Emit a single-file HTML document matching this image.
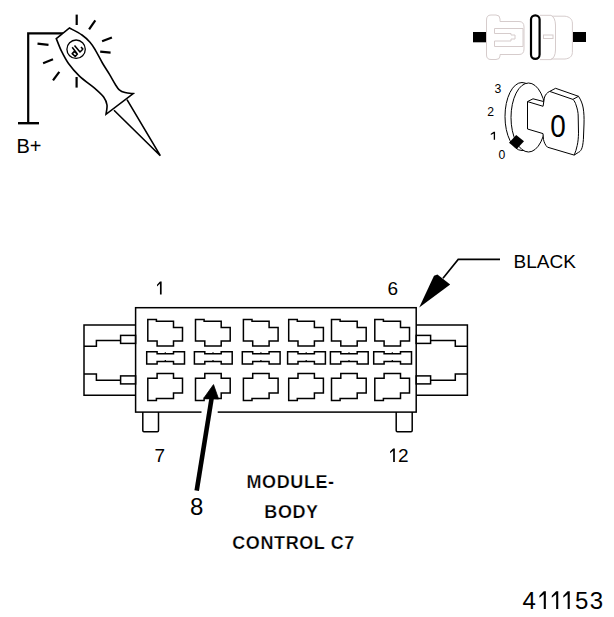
<!DOCTYPE html>
<html><head><meta charset="utf-8">
<style>
html,body{margin:0;padding:0;background:#fff;}
body{width:614px;height:617px;overflow:hidden;position:relative;}
svg{position:absolute;left:0;top:0;}
text{font-family:"Liberation Sans",sans-serif;fill:#000;}
</style></head><body>
<svg width="614" height="617" viewBox="0 0 614 617">
<rect width="614" height="617" fill="#fff"/>
<!-- test light -->
<g stroke="#000" fill="none" stroke-linecap="butt">
  <path d="M28.2 123 V33.4 H63.4" stroke-width="2.2"/>
  <path d="M18 123.2 H39" stroke-width="2.4"/>
  <g stroke-width="2.2">
    <path d="M76.7 14.6 V25"/>
    <path d="M89.1 29.3 L95.3 20.4"/>
    <path d="M102.1 41.3 L111.9 37.4"/>
    <path d="M100.2 51.7 L110.6 52.7"/>
    <path d="M76.6 77 V87.6"/>
    <path d="M53 80.3 L59.3 71.8"/>
    <path d="M43.1 63.2 L53 59.3"/>
    <path d="M37.5 43.7 L48.5 44.9"/>
  </g>
  <path d="M56.3 38.6 L69.5 28 C71.58 29.17 78.58 32.62 82 35 C85.42 37.38 87.75 39.75 90 42.3 C92.25 44.85 93.43 46.85 95.5 50.3 C97.57 53.75 100.07 58.98 102.4 63 C104.73 67.02 107.37 70.87 109.5 74.4 C111.63 77.93 113.57 81.62 115.2 84.2 C116.83 86.78 117.67 88.5 119.3 89.9 C120.93 91.3 122.68 91.98 125 92.6 C127.32 93.22 131.83 93.43 133.2 93.6 L106 114.3 C106.17 112.75 107.37 107.83 107 105 C106.63 102.17 105.6 99.87 103.8 97.3 C102 94.73 100.3 93.18 96.2 89.6 C92.1 86.02 83.82 80.15 79.2 75.8 C74.58 71.45 71.45 67.6 68.5 63.5 C65.55 59.4 63.53 55.35 61.5 51.2 C59.47 47.05 57.17 40.7 56.3 38.6 Z" stroke-width="1.6" fill="#fff" stroke-linejoin="miter"/>
  <path d="M114 110.3 L160.3 155.7 L127 99.7" stroke-width="1.6"/>
  <circle cx="76.1" cy="49.2" r="9.2" stroke-width="1.3"/>
  <path d="M72.2 47.2 L77.1 53.7 M72.2 53.6 L74.2 51.6 L77.4 54 L75.2 56.5 Z M74.5 45.4 L80 52 L82.5 49.5 M81 47 L83.3 49.6" stroke-width="1.55" stroke-linejoin="round"/>
</g>
<text x="16.5" y="152.8" font-size="20">B+</text>
<!-- connector icon (grey) -->
<g stroke="#d6cccc" fill="none" stroke-width="1">
  <path d="M486.5 20 Q486.5 15 491 15 H496 Q500 15 500 19 V21.5 H519 Q524 21.5 524 27 V49 Q524 54.5 519 54.5 H500 V56 Q500 59.5 496 59.5 H491 Q486.5 59.5 486.5 55 Z"/>
  <path d="M494.5 28.5 H523 V46.5 H494.5 V41 H511 V39 H515 V35 H511 V33.5 H494.5 Z"/>
  <path d="M540 15.3 H551 C554 17 555.3 20 555.5 25 V50 C555.3 55 554 58 551 59.6 H540"/>
  <path d="M552 16.2 H565 C569.5 16.8 572.2 19 572.4 23 V52.5 C572.2 56.5 569.5 58.5 565 59 H551"/>
  <rect x="543.5" y="35" width="9.5" height="3.5"/>
</g>
<rect x="473" y="32" width="13" height="10.3" fill="#000"/>
<rect x="573" y="32" width="13" height="10" fill="#000"/>
<rect x="531" y="15.3" width="8.6" height="43.6" rx="4.3" fill="none" stroke="#000" stroke-width="2.2"/>
<!-- key cylinder -->
<g stroke="#000" fill="#fff" stroke-width="1">
  <ellipse cx="522" cy="116.5" rx="17" ry="34"/>
    <ellipse cx="528.5" cy="117.5" rx="17.5" ry="34.5"/>
  <path d="M527.5 101.6 L533 98.8 L543.9 101.6 M527.5 101.6 L543.1 106.3 M527.5 101.6 V129 L543 133.6"/>
  <path d="M549.7 91.4 L555.6 88.3 L578.5 96.3 C581 100 582.5 104 583.2 108 C584 113 584.2 118 584 124 L583.4 139.4 C583 144 582.5 147 581.5 149.2 C580.5 151 579.5 152 578.5 152.3 L574.2 155.1"/>
  <path d="M543.1 106.3 L544.3 98.1 C545 95 547 92.5 549.7 91.4 L572.9 99.4 C574.5 101 575.5 103 576 104.9 C577.5 109 578.2 113 578.2 116 L578.5 133.2 C578.4 138 578 142 577.2 145.5 C576.5 149 575.5 152 574.2 155.1 L547.5 147.2 C545.5 145.5 544.2 142.5 543.5 139.6 L543 133.6"/>
  <path d="M572.9 99.4 L578.5 96.3"/>
</g>
<path d="M509 142.8 L516.2 135 L524 141.2 L516.8 149 Z" fill="#000"/>
<g font-size="12.2">
  <text x="494.6" y="92.6">3</text>
  <text x="487.3" y="115.8">2</text>
  <text x="498.6" y="158.7">0</text>
</g>
<path d="M161.65 281.4 L161.65 294.6 L159.95 294.6 L159.95 283.82 L157 286.41 L157 284.79 L159.95 281.4 Z" fill="#000"/><path d="M394.85 448.4 L394.85 461.9 L393.15 461.9 L393.15 450.82 L390.1 453.21 L390.1 451.59 L393.15 448.4 Z" fill="#000"/><path d="M545.85 591.3 L545.85 608.9 L543.75 608.9 L543.75 594.29 L539.4 597.8 L539.4 595.8 L543.75 591.3 Z" fill="#000"/><path d="M558.25 591.3 L558.25 608.9 L556.15 608.9 L556.15 594.29 L551.8 597.8 L551.8 595.8 L556.15 591.3 Z" fill="#000"/><path d="M569.75 591.3 L569.75 608.9 L567.65 608.9 L567.65 594.29 L563.3 597.8 L563.3 595.8 L567.65 591.3 Z" fill="#000"/><path d="M495.05 131.7 L495.05 139.7 L493.75 139.7 L493.75 133.55 L490.8 134.92 L490.8 133.68 L493.75 131.7 Z" fill="#000"/>
<text x="0" y="0" font-size="31" transform="translate(550.2 137) scale(0.9 1)">0</text>
<!-- main connector -->
<g stroke="#000" fill="none" stroke-width="1.5">
  <rect x="135.6" y="307.7" width="280.6" height="104.4"/>
  <path d="M135.6 325 H84 V395.2 H135.6"/>
  <path d="M84 346.2 H96.4 V340.6 H120.6"/>
  <rect x="120.6" y="335.4" width="15" height="8"/>
  <path d="M84 374 H96.4 V380.2 H120.6"/>
  <rect x="120.6" y="375.9" width="15" height="8"/>
  <path d="M416.2 325 H467.4 V395.2 H416.2"/>
  <rect x="416.2" y="335.4" width="14.4" height="8"/>
  <path d="M430.6 340.6 H455.3 V346.2 H467.4"/>
  <rect x="416.2" y="375.9" width="14.4" height="8"/>
  <path d="M430.6 380.2 H455.3 V374 H467.4"/>
  <path d="M142.8 412 V430.5 Q142.8 431.7 144 431.7 H157.3 Q158.5 431.7 158.5 430.5 V412"/>
  <path d="M396.2 412 V430.5 Q396.2 431.7 397.4 431.7 H411 Q412.2 431.7 412.2 430.5 V412"/>
  <path d="M147.8 319.4 L156.4 319.4 L156.4 321.3 L173.5 321.3 L173.5 327.4 L182.5 327.4 L182.5 341 L173.5 341 L173.5 346.1 L157.1 346.1 L157.1 341 L147.8 341 Z M146.7 351.7 L157.1 351.7 L157.1 353.7 L173.5 353.7 L173.5 351.7 L184.5 351.7 L184.5 364 L173.5 364 L173.5 361.5 L157.1 361.5 L157.1 364 L146.7 364 Z M147.8 378.3 L157.1 378.3 L157.1 373.6 L173.5 373.6 L173.5 378.3 L182.5 378.3 L182.5 392.9 L173.5 392.9 L173.5 398.4 L156.4 398.4 L156.4 400.4 L147.8 400.4 Z M195.5 319.4 L204.1 319.4 L204.1 321.3 L221.2 321.3 L221.2 327.4 L230.2 327.4 L230.2 341 L221.2 341 L221.2 346.1 L204.8 346.1 L204.8 341 L195.5 341 Z M194.4 351.7 L204.8 351.7 L204.8 353.7 L221.2 353.7 L221.2 351.7 L232.2 351.7 L232.2 364 L221.2 364 L221.2 361.5 L204.8 361.5 L204.8 364 L194.4 364 Z M195.5 378.3 L204.8 378.3 L204.8 373.6 L221.2 373.6 L221.2 378.3 L230.2 378.3 L230.2 392.9 L221.2 392.9 L221.2 398.4 L204.1 398.4 L204.1 400.4 L195.5 400.4 Z M243.4 319.4 L252 319.4 L252 321.3 L269.1 321.3 L269.1 327.4 L278.1 327.4 L278.1 341 L269.1 341 L269.1 346.1 L252.7 346.1 L252.7 341 L243.4 341 Z M242.3 351.7 L252.7 351.7 L252.7 353.7 L269.1 353.7 L269.1 351.7 L280.1 351.7 L280.1 364 L269.1 364 L269.1 361.5 L252.7 361.5 L252.7 364 L242.3 364 Z M243.4 378.3 L252.7 378.3 L252.7 373.6 L269.1 373.6 L269.1 378.3 L278.1 378.3 L278.1 392.9 L269.1 392.9 L269.1 398.4 L252 398.4 L252 400.4 L243.4 400.4 Z M288.7 319.4 L297.3 319.4 L297.3 321.3 L314.4 321.3 L314.4 327.4 L323.4 327.4 L323.4 341 L314.4 341 L314.4 346.1 L298 346.1 L298 341 L288.7 341 Z M287.6 351.7 L298 351.7 L298 353.7 L314.4 353.7 L314.4 351.7 L325.4 351.7 L325.4 364 L314.4 364 L314.4 361.5 L298 361.5 L298 364 L287.6 364 Z M288.7 378.3 L298 378.3 L298 373.6 L314.4 373.6 L314.4 378.3 L323.4 378.3 L323.4 392.9 L314.4 392.9 L314.4 398.4 L297.3 398.4 L297.3 400.4 L288.7 400.4 Z M331.5 319.4 L340.1 319.4 L340.1 321.3 L357.2 321.3 L357.2 327.4 L366.2 327.4 L366.2 341 L357.2 341 L357.2 346.1 L340.8 346.1 L340.8 341 L331.5 341 Z M330.4 351.7 L340.8 351.7 L340.8 353.7 L357.2 353.7 L357.2 351.7 L368.2 351.7 L368.2 364 L357.2 364 L357.2 361.5 L340.8 361.5 L340.8 364 L330.4 364 Z M331.5 378.3 L340.8 378.3 L340.8 373.6 L357.2 373.6 L357.2 378.3 L366.2 378.3 L366.2 392.9 L357.2 392.9 L357.2 398.4 L340.1 398.4 L340.1 400.4 L331.5 400.4 Z M374.8 319.4 L383.4 319.4 L383.4 321.3 L400.5 321.3 L400.5 327.4 L409.5 327.4 L409.5 341 L400.5 341 L400.5 346.1 L384.1 346.1 L384.1 341 L374.8 341 Z M373.7 351.7 L384.1 351.7 L384.1 353.7 L400.5 353.7 L400.5 351.7 L411.5 351.7 L411.5 364 L400.5 364 L400.5 361.5 L384.1 361.5 L384.1 364 L373.7 364 Z M374.8 378.3 L384.1 378.3 L384.1 373.6 L400.5 373.6 L400.5 378.3 L409.5 378.3 L409.5 392.9 L400.5 392.9 L400.5 398.4 L383.4 398.4 L383.4 400.4 L374.8 400.4 Z"/>
  <path d="M165.3 352.3 V354 M165.3 360 V361.5 M213 352.3 V354 M213 360 V361.5 M260.9 352.3 V354 M260.9 360 V361.5 M306.2 352.3 V354 M306.2 360 V361.5 M349 352.3 V354 M349 360 V361.5 M392.3 352.3 V354 M392.3 360 V361.5" stroke-width="1.2"/>
</g>
<!-- arrow 8 -->
<rect x="201.5" y="409" width="16.2" height="6" fill="#fff"/>
<path d="M196.7 490.6 L212.3 394" stroke="#000" stroke-width="4.6"/>
<path d="M213.5 384.6 L203.9 398 L218.6 399 Z" fill="#000" stroke="#000" stroke-width="0.8" stroke-linejoin="round"/>
<!-- black arrow -->
<path d="M500 259.4 H458.2 L443 278.3" stroke="#000" stroke-width="1.6" fill="none"/>
<path d="M419.2 307.4 L434 275.8 L437.4 274.6 L450.2 284.6 Z" fill="#000"/>
<g font-size="19">
  
  <text x="387.5" y="295">6</text>
  <text x="154.5" y="461.8">7</text>
  <text x="398.1" y="461.9">2</text>
  <text x="513.5" y="268.2">BLACK</text>
</g>
<text x="190" y="514.8" font-size="24">8</text>
<g font-size="18" font-weight="bold" letter-spacing="0.6" stroke="#fff" stroke-width="0.25">
  <text x="290.6" y="487.7" text-anchor="middle">MODULE-</text>
  <text x="291.5" y="518.3" text-anchor="middle">BODY</text>
  <text x="293.6" y="548.8" text-anchor="middle">CONTROL C7</text>
</g>
<g font-size="24"><text x="522.5" y="608.9">4</text><text x="575.1" y="608.9">5</text><text x="589.8" y="608.9">3</text></g>
</svg>
</body></html>
